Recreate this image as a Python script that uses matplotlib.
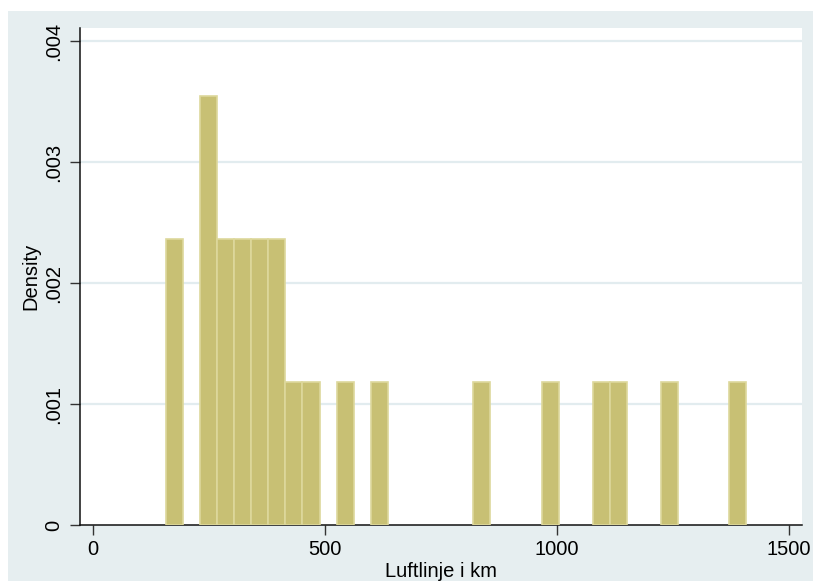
import numpy as np
import matplotlib.pyplot as plt
from matplotlib.patches import Rectangle

# Histogram of straight-line distances (km), 23 observations
bin_start = 157.0
bin_width = 36.8
counts = [2, 0, 3, 2, 2, 2, 2, 1, 1, 0,
          1, 0, 1, 0, 0, 0, 0, 0, 1, 0,
          0, 0, 1, 0, 0, 1, 1, 0, 0, 1,
          0, 0, 0, 1]
x_ticks = [0, 500, 1000, 1500]
y_ticks = [0, 0.001, 0.002, 0.003, 0.004]
y_ticklabels = ["0", ".001", ".002", ".003", ".004"]

counts = np.array(counts, dtype=float)
n_obs = counts.sum()
density = counts / (n_obs * bin_width)
left_edges = bin_start + bin_width * np.arange(len(counts))

plt.rcParams["font.family"] = ["Liberation Sans", "DejaVu Sans"]

bg = "#e6eef0"
fig = plt.figure(figsize=(8.13, 5.81), dpi=100, facecolor="white")
fig.patches.append(Rectangle((8 / 813, 0), 1, 1 - 11 / 581,
                             transform=fig.transFigure, facecolor=bg,
                             edgecolor="none", zorder=-10))

ax = fig.add_axes([80 / 813, 1 - 525 / 581, (802 - 80) / 813, (525 - 28) / 581])
ax.set_facecolor("white")

mask = counts > 0
ax.bar(left_edges[mask], density[mask], width=bin_width, align="edge",
       color="#c8c074", edgecolor="#ddd89c", linewidth=1.2, zorder=3)

ax.set_xlim(-28, 1528)
ax.set_ylim(0, 0.00411)

ax.set_xticks(x_ticks)
ax.set_yticks(y_ticks)
ax.set_yticklabels(y_ticklabels, rotation=90, va="center")
ax.tick_params(axis="both", direction="out", length=7, width=1,
               color="#333333", labelsize=14.5, pad=4)
ax.tick_params(axis="y", pad=5)

for y in y_ticks[1:]:
    ax.axhline(y, color="#e2ecef", linewidth=1.6, zorder=1)

for side in ["top", "right"]:
    ax.spines[side].set_visible(False)
for side in ["left", "bottom"]:
    ax.spines[side].set_color("#111111")
    ax.spines[side].set_linewidth(1.1)

ax.set_xlabel("Luftlinje i km", fontsize=14.5, labelpad=2)
ax.set_ylabel("Density", fontsize=14.5, labelpad=3)

fig.savefig("out.png", dpi=100, facecolor=fig.get_facecolor())
